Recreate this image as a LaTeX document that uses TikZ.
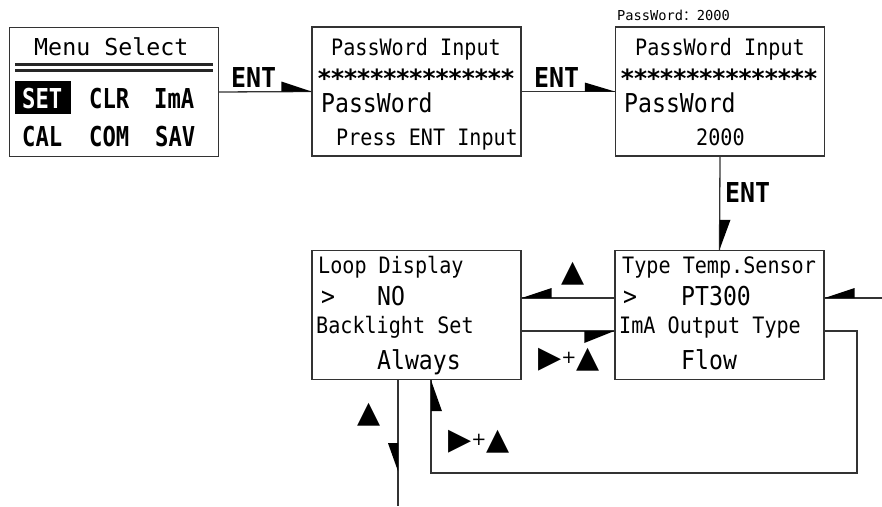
\documentclass[tikz,border=0pt]{standalone}
\usepackage{fontspec}
\usetikzlibrary{calc}
% LCD-style monospaced faces
\newfontfamily\lcd[FakeStretch=0.89]{DejaVu Sans Mono}
\newfontfamily\lcdw{DejaVu Sans Mono}
\newfontfamily\lcdb[FakeStretch=0.81]{DejaVu Sans Mono Bold}
\newfontfamily\lcdbw[FakeStretch=0.91]{DejaVu Sans Mono Bold}
\newfontfamily\symf{DejaVu Sans}
\newfontfamily\symb{DejaVu Sans Bold}
\newfontfamily\cjk{Noto Sans CJK SC}
\newcommand{\txtS}{\lcd\fontsize{22.6}{24}\selectfont}
\newcommand{\txtL}{\lcd\fontsize{26}{28}\selectfont}
\newcommand{\txtB}{\lcdb\fontsize{27.4}{29}\selectfont}
\newcommand{\txtE}{\lcdbw\fontsize{27.4}{29}\selectfont}
\newcommand{\symS}{\symf\fontsize{30}{31}\selectfont}
\newcommand{\stars}{\symb\fontsize{25}{26}\selectfont ***************}
\newcommand{\keyplus}{\symS ▶\fontsize{18}{19}\selectfont\raisebox{4pt}{+}\symS ▲}
\begin{document}
\begin{tikzpicture}[x=1pt,y=-1pt,
  panel/.style={draw=black!80,line width=1.4pt,fill=white,minimum width=209pt,minimum height=129pt,inner sep=0pt},
  conn/.style={draw=black!80,line width=1.3pt},
  tip/.style={fill=black},
  lbl/.style={anchor=base west,inner sep=0pt,text=black},
  glyph/.style={anchor=center,inner sep=0pt,text=black}]
\useasboundingbox (0,0) rectangle (882,506);
\fill[white] (0,0) rectangle (882,506);

% display panels
\node[panel] (menu) at (114,92) {};
\node[panel] (pw1) at (416.5,91.5) {};
\node[panel] (pw2) at (720,91.5) {};
\node[panel] (loop) at (416.5,315) {};
\node[panel] (temp) at (719.5,315) {};

% free ends of the open connectors
\coordinate (inR) at (882,298);
\coordinate (outB) at (398,506);

% menu panel
\node[lbl] (mtitle) at (34,55) {\lcdw\fontsize{23.3}{25}\selectfont Menu Select};
\draw[black!85,line width=2.5pt] (15,64.5) -- (213,64.5);
\draw[black!85,line width=2.5pt] (15,70.4) -- (213,70.4);
\fill[black] (15,81) rectangle (71,114);
\node[lbl,text=white] (mset) at (22,108) {\txtB SET};
\node[lbl] (mclr) at (89,108) {\txtB CLR};
\node[lbl] (mima) at (154,108) {\txtB ImA};
\node[lbl] (mcal) at (22,146) {\txtB CAL};
\node[lbl] (mcom) at (89,146) {\txtB COM};
\node[lbl] (msav) at (155,146) {\txtB SAV};

% first password panel
\node[lbl] (p1a) at (331,55) {\txtS PassWord Input};
\node[glyph] (p1b) at (416,78) {\stars};
\node[lbl] (p1c) at (321,112) {\txtL PassWord};
\node[lbl] (p1d) at (336,145) {\txtS Press ENT Input};

% second password panel
\node[lbl] (p2note) at (617,20) {\lcdw\fontsize{13.7}{15}\selectfont PassWord{\cjk ：}2000};
\node[lbl] (p2a) at (635,55) {\txtS PassWord Input};
\node[glyph] (p2b) at (719,78) {\stars};
\node[lbl] (p2c) at (624,112) {\txtL PassWord};
\node[lbl] (p2d) at (696,145) {\txtS 2000};

% loop display panel
\node[lbl] (l1) at (318,273) {\txtS Loop Display};
\node[lbl] (l2a) at (321,305) {\txtL >};
\node[lbl] (l2b) at (377,305) {\txtL NO};
\node[lbl] (l3) at (316,333) {\txtS Backlight Set};
\node[lbl] (l4) at (377,369) {\txtL Always};

% sensor panel
\node[lbl] (t1) at (622,273) {\txtS Type Temp.Sensor};
\node[lbl] (t2a) at (623,305) {\txtL >};
\node[lbl] (t2b) at (681,305) {\txtL PT300};
\node[lbl] (t3) at (619,333) {\txtS ImA Output Type};
\node[lbl] (t4) at (681,369) {\txtL Flow};

% ENT transitions
\draw[conn] (menu.east) -- (pw1.west);
\fill[tip] (pw1.west) -- ++(-30,0) -- ++(0,-10) -- cycle;
\node[lbl] (ent1) at (231,87) {\txtE ENT};

\draw[conn] (pw1.east) -- (pw2.west);
\fill[tip] (pw2.west) -- ++(-30,0) -- ++(0,-9) -- cycle;
\node[lbl] (ent2) at (534,87) {\txtE ENT};

\draw[conn] (pw2.south) -- (temp.north);
\fill[tip] (temp.north) -- ++(0,-30) -- ++(11,0) -- cycle;
\node[lbl] (ent3) at (725,202) {\txtE ENT};

% transitions between the setting panels
\draw[conn] ([yshift=17pt]temp.west) -- ([yshift=17pt]loop.east);
\fill[tip] ([yshift=17pt]loop.east) -- ++(30,0) -- ++(0,-10) -- cycle;
\node[glyph] (kup1) at (573,274) {\symS ▲};

\draw[conn] ([yshift=-16pt]loop.east) -- ([yshift=-16pt]temp.west);
\fill[tip] ([yshift=-16pt]temp.west) -- ++(-30,0) -- ++(0,12) -- cycle;
\node[glyph] (kcomb1) at (569,360) {\keyplus};

\draw[conn] (inR) -- ([yshift=17pt]temp.east);
\fill[tip] ([yshift=17pt]temp.east) -- ++(30,0) -- ++(0,-10) -- cycle;

\draw[conn] ([yshift=-16pt]temp.east) -| (857,473) -| ([xshift=14.5pt]loop.south);
\fill[tip] ([xshift=14.5pt]loop.south) -- ++(0,31) -- ++(11,0) -- cycle;
\node[glyph] (kcomb2) at (479,442) {\keyplus};

\draw[conn] (loop.south -| outB) -- (outB);
\fill[tip] ($(loop.south -| outB)+(0,91)$) -- ++(0,-28) -- ++(-10,0) -- cycle;
\node[glyph] (kup2) at (369.5,415) {\symS ▲};
\end{tikzpicture}
\end{document}
